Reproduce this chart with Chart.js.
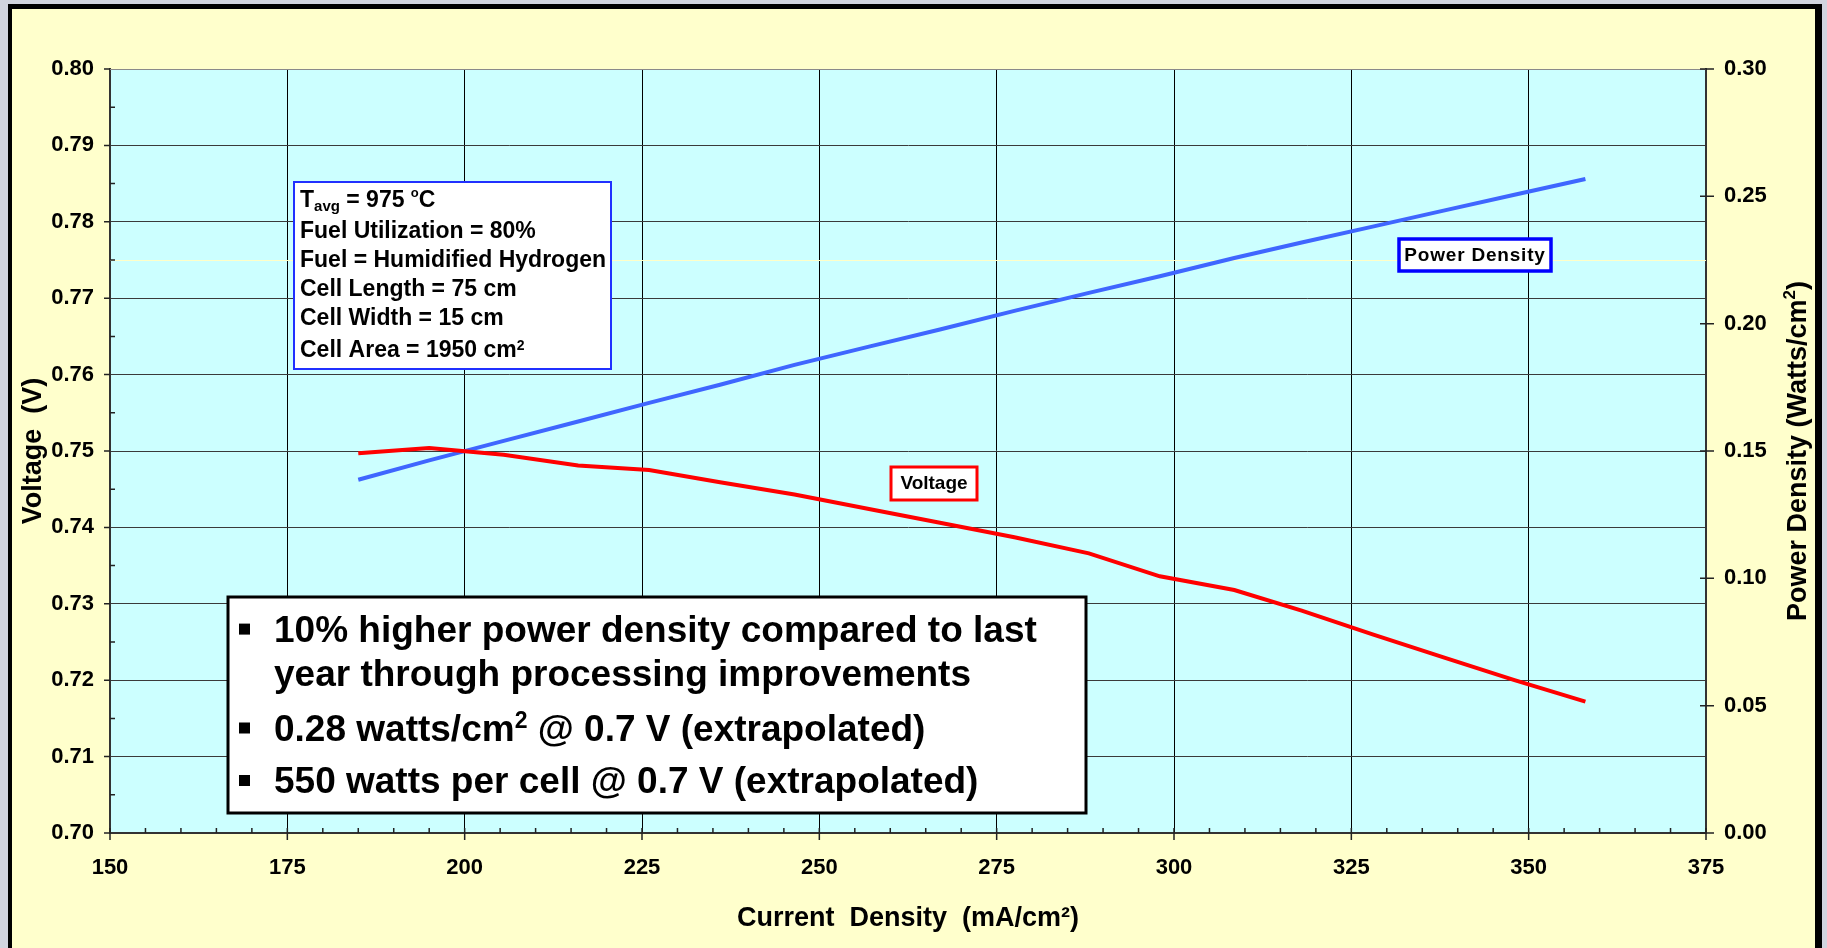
<!DOCTYPE html>
<html>
<head>
<meta charset="utf-8">
<script src="https://cdn.jsdelivr.net/npm/chart.js@4.4.0/dist/chart.umd.min.js"></script>
<style>
  html, body { margin: 0; padding: 0; background: #D1D4DE; overflow: hidden; }
  #wrap { width: 1827px; height: 948px; }
</style>
</head>
<body>
<div id="wrap"><canvas id="grafico" width="1827" height="948"></canvas></div>
<script>
// ─── Datos ───────────────────────────────────────
const densidadCorriente = [185, 195, 205.5, 216, 226, 236, 246.5, 257, 267, 277.5, 288, 298, 308.5, 318, 328, 338, 348, 358];
const voltaje           = [0.7497, 0.7504, 0.7495, 0.7481, 0.7475, 0.7459, 0.7443, 0.7424, 0.7406, 0.7387, 0.7366, 0.7336, 0.7318, 0.7291, 0.7260, 0.7230, 0.7200, 0.7172];
const densidadPotencia  = [0.1387, 0.1463, 0.1540, 0.1616, 0.1689, 0.1760, 0.1838, 0.1910, 0.1977, 0.2050, 0.2121, 0.2186, 0.2258, 0.2319, 0.2381, 0.2444, 0.2506, 0.2568];

const ticksX        = [150, 175, 200, 225, 250, 275, 300, 325, 350, 375];
const ticksVoltaje  = [0.70, 0.71, 0.72, 0.73, 0.74, 0.75, 0.76, 0.77, 0.78, 0.79, 0.80];
const ticksPotencia = [0.00, 0.05, 0.10, 0.15, 0.20, 0.25, 0.30];

const condiciones = [
  [['T', 23, 0], ['avg', 15, 4.5], [' = 975 ', 23, 0], ['o', 13, -9.5], ['C', 23, 0]],
  [['Fuel Utilization = 80%', 23, 0]],
  [['Fuel = Humidified Hydrogen', 23, 0]],
  [['Cell Length = 75 cm', 23, 0]],
  [['Cell Width = 15 cm', 23, 0]],
  [['Cell Area = 1950 cm', 23, 0], ['2', 14, -7]]
];
const resumen = [
  { vineta: true,  partes: [['10% higher power density compared to last', 37, 0]] },
  { vineta: false, partes: [['year through processing improvements', 37, 0]] },
  { vineta: true,  partes: [['0.28 watts/cm', 37, 0], ['2', 23, -13], [' @ 0.7 V (extrapolated)', 37, 0]] },
  { vineta: true,  partes: [['550 watts per cell @ 0.7 V (extrapolated)', 37, 0]] }
];

// ─── Estilo ──────────────────────────────────────
const FAMILIA   = "'Liberation Sans', Arial, sans-serif";
const colorRojo = '#FF0000';
const colorAzul = '#3F66FF';
const ctx = document.getElementById('grafico').getContext('2d');

// ─── Helpers ─────────────────────────────────────
function fuente(size) { return 'bold ' + size + 'px ' + FAMILIA; }

function escribirPartes(c, partes, x, y) {
  partes.forEach(([txt, size, dy]) => {
    c.font = fuente(size);
    c.fillText(txt, x, y + dy);
    x += c.measureText(txt).width;
  });
}

function cajaEtiqueta(c, x, y, w, h, borde, grosor, txt, baseY, espaciado) {
  c.fillStyle = '#FFFFFF';
  c.fillRect(x, y, w, h);
  c.strokeStyle = borde;
  c.lineWidth = grosor;
  c.strokeRect(x, y, w, h);
  c.fillStyle = '#000';
  c.font = fuente(19);
  c.letterSpacing = espaciado;
  c.textAlign = 'center';
  c.fillText(txt, x + w / 2, baseY);
  c.letterSpacing = '0px';
  c.textAlign = 'left';
}

// ─── Plugins ─────────────────────────────────────
const fondo = {
  id: 'fondo',
  beforeDraw(chart) {
    const c = chart.ctx, a = chart.chartArea;
    c.save();
    c.fillStyle = '#D1D4DE';
    c.fillRect(0, 0, chart.width, chart.height);
    c.fillStyle = '#FFFFCC';
    c.fillRect(10, 7, 1808, chart.height);
    c.fillStyle = '#000';
    c.fillRect(8, 4, 1814, 5);
    c.fillRect(8, 4, 4, chart.height);
    c.fillRect(1815, 4, 7, chart.height);
    c.fillStyle = '#CCFFFF';
    c.fillRect(a.left, a.top, a.right - a.left, a.bottom - a.top);
    c.restore();
  }
};

const marcas = {
  id: 'marcas',
  beforeDatasetsDraw(chart) {
    const c = chart.ctx, a = chart.chartArea;
    const sx = chart.scales.x, sy = chart.scales.y, sp = chart.scales.y1;
    c.save();
    // linea clara que cruza el fondo
    c.strokeStyle = '#FFFFC8';
    c.lineWidth = 1;
    const yClara = Math.round(sy.getPixelForValue(0.775)) + 0.5;
    c.beginPath(); c.moveTo(a.left, yClara); c.lineTo(a.right, yClara); c.stroke();
    // borde superior del area
    c.strokeStyle = '#8A8A8A';
    c.beginPath(); c.moveTo(a.left, a.top + 0.5); c.lineTo(a.right, a.top + 0.5); c.stroke();

    c.strokeStyle = '#222';
    c.lineWidth = 1.5;
    c.beginPath();
    ticksVoltaje.forEach((v, i) => {
      const y = sy.getPixelForValue(v);
      c.moveTo(a.left - 6, y); c.lineTo(a.left, y);
      if (i < ticksVoltaje.length - 1) {
        const ym = sy.getPixelForValue(v + 0.005);
        c.moveTo(a.left, ym); c.lineTo(a.left + 5, ym);
      }
    });
    ticksX.forEach((v, i) => {
      const x = sx.getPixelForValue(v);
      c.moveTo(x, a.bottom - 5); c.lineTo(x, a.bottom + 7);
      if (i < ticksX.length - 1) {
        for (let k = 5; k < 25; k += 5) {
          const xm = sx.getPixelForValue(v + k);
          c.moveTo(xm, a.bottom - 5); c.lineTo(xm, a.bottom);
        }
      }
    });
    ticksPotencia.forEach(v => {
      const y = sp.getPixelForValue(v);
      c.moveTo(a.right - 6, y); c.lineTo(a.right + 8, y);
    });
    c.stroke();
    c.restore();
  },
  afterDatasetsDraw(chart) {
    const c = chart.ctx, a = chart.chartArea;
    c.save();
    c.textBaseline = 'alphabetic';
    c.fillStyle = '#000';

    // titulo del eje derecho (se lee hacia arriba)
    c.save();
    c.translate(1806, (a.top + a.bottom) / 2);
    c.rotate(-Math.PI / 2);
    c.font = fuente(27);
    const t1 = 'Power Density (Watts/cm', t2 = '2', t3 = ')';
    const w1 = c.measureText(t1).width, w3 = c.measureText(t3).width;
    c.font = fuente(17);
    const w2 = c.measureText(t2).width;
    let x0 = -(w1 + w2 + w3) / 2;
    escribirPartes(c, [[t1, 27, 0], [t2, 17, -11], [t3, 27, 0]], x0, 0);
    c.restore();

    // recuadro de condiciones
    c.fillStyle = '#FFFFFF';
    c.fillRect(294, 182, 317, 187);
    c.strokeStyle = '#2030FF';
    c.lineWidth = 2;
    c.strokeRect(294, 182, 317, 187);
    c.fillStyle = '#000';
    const basesCond = [206.7, 237.7, 266.7, 295.7, 324.7, 357];
    condiciones.forEach((partes, i) => escribirPartes(c, partes, 300, basesCond[i]));

    // recuadro de resumen
    c.fillStyle = '#FFFFFF';
    c.fillRect(228, 597, 858, 216);
    c.strokeStyle = '#000';
    c.lineWidth = 3;
    c.strokeRect(228, 597, 858, 216);
    c.fillStyle = '#000';
    const basesRes = [641.6, 685.6, 740.5, 793];
    resumen.forEach((linea, i) => {
      if (linea.vineta) c.fillRect(239, basesRes[i] - 18, 11, 11);
      escribirPartes(c, linea.partes, 274, basesRes[i]);
    });

    // etiquetas de series
    cajaEtiqueta(c, 891, 467, 86, 33, colorRojo, 3, 'Voltage', 489, '0px');
    cajaEtiqueta(c, 1399, 239, 152, 32, '#0000FF', 3.5, 'Power Density', 261, '0.8px');
    c.restore();
  }
};

// ─── Gráfico ─────────────────────────────────────
const ejeFuente = { family: FAMILIA, size: 22, weight: 'bold' };

new Chart(ctx, {
  type: 'line',
  data: {
    datasets: [
      {
        label: 'Voltage',
        data: densidadCorriente.map((x, i) => ({ x, y: voltaje[i] })),
        yAxisID: 'y',
        borderColor: colorRojo,
        borderWidth: 4,
        pointRadius: 0,
        tension: 0
      },
      {
        label: 'Power Density',
        data: densidadCorriente.map((x, i) => ({ x, y: densidadPotencia[i] })),
        yAxisID: 'y1',
        borderColor: colorAzul,
        borderWidth: 4,
        pointRadius: 0,
        tension: 0
      }
    ]
  },
  options: {
    responsive: false,
    animation: false,
    devicePixelRatio: 1,
    layout: { padding: { top: 69, left: 0, right: 0, bottom: 0 } },
    plugins: { legend: { display: false }, tooltip: { enabled: false } },
    scales: {
      x: {
        type: 'linear',
        position: 'bottom',
        min: 150,
        max: 375,
        afterBuildTicks: s => { s.ticks = ticksX.map(v => ({ value: v })); },
        afterFit: s => { s.height = 115; },
        grid: { color: '#000', lineWidth: 1, drawTicks: false },
        border: { display: true, color: '#333', width: 2 },
        ticks: { font: ejeFuente, color: '#000', padding: 22, maxRotation: 0, autoSkip: false, callback: v => String(v) },
        title: {
          display: true,
          text: 'Current  Density  (mA/cm²)',
          color: '#000',
          font: { family: FAMILIA, size: 27, weight: 'bold' },
          padding: { top: 0, bottom: 13 }
        }
      },
      y: {
        type: 'linear',
        position: 'left',
        min: 0.70,
        max: 0.80,
        afterBuildTicks: s => { s.ticks = ticksVoltaje.map(v => ({ value: v })); },
        afterFit: s => { s.width = 110; },
        grid: { color: '#3A3A3A', lineWidth: 1, drawTicks: false },
        border: { display: true, color: '#333', width: 2 },
        ticks: { font: ejeFuente, color: '#000', padding: 16, autoSkip: false, callback: v => v.toFixed(2) },
        title: {
          display: true,
          text: 'Voltage  (V)',
          color: '#000',
          font: { family: FAMILIA, size: 27, weight: 'bold' },
          padding: { top: 17.5, bottom: 0 }
        }
      },
      y1: {
        type: 'linear',
        position: 'right',
        min: 0,
        max: 0.30,
        afterBuildTicks: s => { s.ticks = ticksPotencia.map(v => ({ value: v })); },
        afterFit: s => { s.width = 121; },
        grid: { display: false, drawTicks: false },
        border: { display: true, color: '#333', width: 2 },
        ticks: { font: ejeFuente, color: '#000', padding: 18, autoSkip: false, callback: v => v.toFixed(2) }
      }
    }
  },
  plugins: [fondo, marcas]
});
</script>
</body>
</html>
